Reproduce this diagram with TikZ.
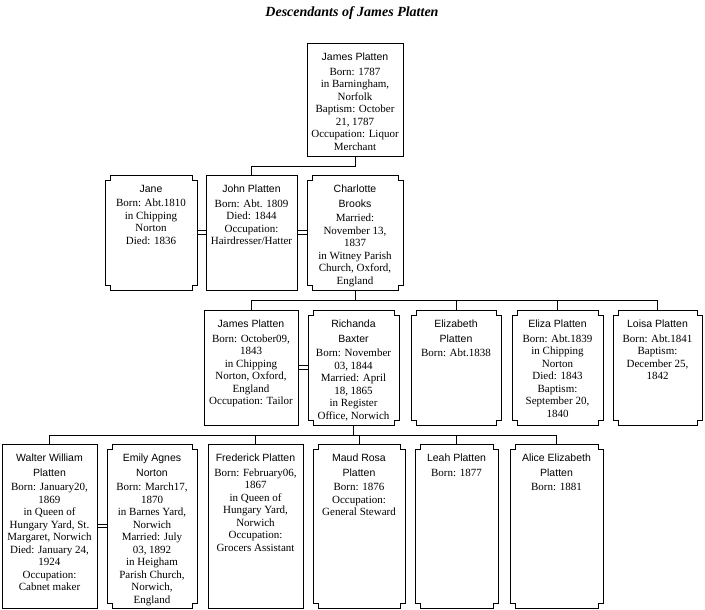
\documentclass[tikz,border=0pt]{standalone}
\usepackage{fontspec}
\setmainfont{Liberation Serif}
\newfontfamily\nmfont{Liberation Sans}
\usetikzlibrary{calc}
\newcommand\nm[1]{{\nmfont\fontsize{10.5}{12.5}\selectfont #1}}
\tikzset{
  pbox/.style={rectangle, draw, line width=0.9pt, inner sep=0pt, outer sep=0pt},
  nbox/.style={rectangle, draw=none, inner sep=0pt, outer sep=0pt},
  txt/.style={anchor=north, align=center, inner sep=2pt, yshift=-8pt,
    font=\fontsize{11}{12.5}\selectfont},
  link/.style={line width=0.9pt},
  wed/.style={line width=0.9pt},
  notchline/.style={line width=0.9pt}
}
\newcommand\person[7][pbox]{%
  \node[#1, minimum width={(#5-#3)*1pt}, minimum height={(#6-#4)*1pt},
    label={[txt]north:{#7}}] (#2) at ({(#3+#5)/2},{(#4+#6)/2}) {};}
\newcommand\wedding[2]{%
  \draw[wed] ([yshift=1.6pt]#1.east) -- ([yshift=1.6pt]#2.west);
  \draw[wed] ([yshift=-1.6pt]#1.east) -- ([yshift=-1.6pt]#2.west);}
\begin{document}
\begin{tikzpicture}[x=1pt,y=-1pt]
\useasboundingbox[fill=white] (0,0) rectangle (705,610);
\node (title) at (352,13) {\fontsize{14}{16}\selectfont\bfseries\itshape Descendants of James Platten};
% generation 0
\person{james}{307}{43}{403}{156}{\nm{James Platten}\\[2pt]Born: 1787\\in Barningham,\\Norfolk\\Baptism: October\\21, 1787\\Occupation: Liquor\\Merchant}
% generation 1
\person[nbox]{jane}{105}{175}{197}{290}{\nm{Jane}\\[2pt]Born: Abt.1810\\in Chipping\\Norton\\Died: 1836}
\person{john}{206}{175}{297}{290}{\nm{John Platten}\\[2pt]Born: Abt. 1809\\Died: 1844\\Occupation:\\Hairdresser/Hatter}
\person[nbox]{charlotte}{307}{175}{403}{290}{\nm{Charlotte}\\[2pt]\nm{Brooks}\\[2pt]Married:\\November 13,\\1837\\in Witney Parish\\Church, Oxford,\\England}
% generation 2
\person{james2}{204}{310}{298}{425}{\nm{James Platten}\\[2pt]Born: October09,\\1843\\in Chipping\\Norton, Oxford,\\England\\Occupation: Tailor}
\person[nbox]{richanda}{308}{310}{399}{425}{\nm{Richanda}\\[2pt]\nm{Baxter}\\[2pt]Born: November\\03, 1844\\Married: April\\18, 1865\\in Register\\Office, Norwich}
\person[nbox]{elizabeth}{411}{310}{501}{425}{\nm{Elizabeth}\\[2pt]\nm{Platten}\\[2pt]Born: Abt.1838}
\person[nbox]{eliza}{512}{310}{603}{425}{\nm{Eliza Platten}\\[2pt]Born: Abt.1839\\in Chipping\\Norton\\Died: 1843\\Baptism:\\September 20,\\1840}
\person[nbox]{loisa}{613}{310}{702}{425}{\nm{Loisa Platten}\\[2pt]Born: Abt.1841\\Baptism:\\December 25,\\1842}
% generation 3
\person{walter}{2}{444}{97}{608}{\nm{Walter William}\\[2pt]\nm{Platten}\\[2pt]Born: January20,\\1869\\in Queen of\\Hungary Yard, St.\\Margaret, Norwich\\Died: January 24,\\1924\\Occupation:\\Cabnet maker}
\person[nbox]{emily}{107}{444}{197}{608}{\nm{Emily Agnes}\\[2pt]\nm{Norton}\\[2pt]Born: March17,\\1870\\in Barnes Yard,\\Norwich\\Married: July\\03, 1892\\in Heigham\\Parish Church,\\Norwich,\\England}
\person{frederick}{208}{444}{303}{608}{\nm{Frederick Platten}\\[2pt]Born: February06,\\1867\\in Queen of\\Hungary Yard,\\Norwich\\Occupation:\\Grocers Assistant}
\person[nbox]{maud}{313}{444}{405}{608}{\nm{Maud Rosa}\\[2pt]\nm{Platten}\\[2pt]Born: 1876\\Occupation:\\General Steward}
\person[nbox]{leah}{415}{444}{498}{608}{\nm{Leah Platten}\\[2pt]Born: 1877}
\person[nbox]{alice}{510}{444}{603}{608}{\nm{Alice Elizabeth}\\[2pt]\nm{Platten}\\[2pt]Born: 1881}
% notched outlines
\foreach \n in {jane,charlotte,richanda,elizabeth,eliza,loisa,emily,maud,leah,alice}{
  \draw[notchline] ($(\n.north west)+(5,0)$) -- ($(\n.north east)+(-5,0)$) -- ++(0,5) -- ++(5,0)
    -- ($(\n.south east)+(0,-5)$) -- ++(-5,0) -- ++(0,5)
    -- ($(\n.south west)+(5,0)$) -- ++(0,-5) -- ++(-5,0)
    -- ($(\n.north west)+(0,5)$) -- ++(5,0) -- cycle;
}
% parent-child links
\draw[link] (james.south) -- ++(0,10) -| (john.north);
\foreach \c in {james2,elizabeth,eliza,loisa}{
  \draw[link] (charlotte.south) -- ++(0,10) -| (\c.north);
}
\foreach \c in {walter,frederick,maud,leah,alice}{
  \draw[link] (richanda.south) -- ++(0,10) -| (\c.north);
}
% marriages
\wedding{jane}{john}
\wedding{john}{charlotte}
\wedding{james2}{richanda}
\wedding{walter}{emily}
\end{tikzpicture}
\end{document}
